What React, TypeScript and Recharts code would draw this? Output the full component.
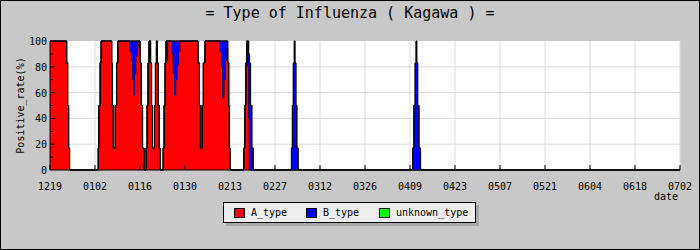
import { Area, AreaChart, CartesianGrid, Legend, XAxis, YAxis } from "recharts";

// days counted from 12/19, values are positive rate (%) per type
const DAYS = [
  0, 5.2, 5.5, 5.8, 6.1,
  15.0, 15.2, 15.6, 15.9, 19.2, 19.4, 19.7,
  20.3, 20.7, 21.1, 24.9, 25.3, 25.7, 26.0, 26.3, 26.7, 27.1, 27.4, 28.0, 28.4, 28.8, 29.3,
  29.9, 30.2, 30.5, 30.8, 31.3, 31.6, 31.9, 32.5, 32.8, 33.1, 33.4, 33.7, 34.0, 34.3,
  35.2, 35.5, 35.8, 36.1, 36.3, 36.6, 37.9, 38.3, 38.7, 39.1, 39.5, 40.0, 40.4, 46.1, 46.5, 46.8,
  47.3, 47.7, 48.2, 52.9, 53.3, 53.7, 54.1, 54.5, 54.9, 55.3, 55.6, 55.8, 56.0,
  60.3, 60.6, 60.9, 61.2, 61.5, 61.8, 62.0, 62.4, 62.8, 63.2,
  75.1, 75.4, 75.7, 76.0, 76.2, 76.5, 76.8, 77.2,
  112.8, 113.2, 113.6, 113.9, 114.1, 114.4, 114.8, 115.3,
  196,
];

const A_TYPE = [
  100, 83, 50, 17, 0,
  17, 50, 83, 100, 83, 50, 17,
  50, 83, 100, 92, 85, 70, 58, 75, 88, 95, 100, 83, 50, 17, 0,
  17, 50, 83, 100, 83, 50, 17, 50, 83, 100, 83, 50, 17, 0,
  17, 50, 83, 100, 85, 100, 90, 75, 58, 70, 82, 92, 100, 83, 50, 17,
  50, 83, 100, 92, 80, 56, 70, 85, 95, 83, 50, 17, 0,
  17, 50, 83, 100, 80, 40, 0, 0, 0, 0,
  0, 0, 0, 0, 0, 0, 0, 0,
  0, 0, 0, 0, 0, 0, 0, 0,
  0,
];

const B_TYPE = [
  0, 0, 0, 0, 0,
  0, 0, 0, 0, 0, 0, 0,
  0, 0, 0, 8, 15, 30, 42, 25, 12, 5, 0, 0, 0, 0, 0,
  0, 0, 0, 0, 0, 0, 0, 0, 0, 0, 0, 0, 0, 0,
  0, 0, 0, 0, 15, 0, 10, 25, 42, 30, 18, 8, 0, 0, 0, 0,
  0, 0, 0, 8, 20, 44, 30, 15, 5, 0, 0, 0, 0,
  0, 0, 0, 0, 20, 50, 83, 50, 17, 0,
  17, 50, 83, 100, 83, 50, 17, 0,
  17, 50, 83, 100, 83, 50, 17, 0,
  0,
];

const UNKNOWN_TYPE = [
  0, 0, 0, 0, 0,
  0, 0, 0, 0, 0, 0, 0,
  0, 0, 0, 0, 0, 0, 0, 0, 0, 0, 0, 0, 0, 0, 0,
  0, 0, 0, 0, 0, 0, 0, 0, 0, 0, 0, 0, 0, 0,
  0, 0, 0, 0, 0, 0, 0, 0, 0, 0, 0, 0, 0, 0, 0, 0,
  0, 0, 0, 0, 0, 0, 0, 0, 0, 0, 0, 0, 0,
  0, 0, 0, 0, 0, 0, 0, 0, 0, 0,
  0, 0, 0, 0, 0, 0, 0, 0,
  0, 0, 0, 0, 0, 0, 0, 0,
  0,
];

const TICK_DAYS = [0, 14, 28, 42, 56, 70, 84, 98, 112, 126, 140, 154, 168, 182, 196];
const TICK_LABELS = [
  "1219", "0102", "0116", "0130", "0213", "0227", "0312", "0326",
  "0409", "0423", "0507", "0521", "0604", "0618", "0702",
];
const Y_TICKS = [0, 10, 20, 30, 40, 50, 60, 70, 80, 90, 100];

const SERIES = [
  { key: "A_type", color: "#ff0000" },
  { key: "B_type", color: "#0000ff" },
  { key: "unknown_type", color: "#00ff00" },
];

const data = DAYS.map((d, i) => ({
  day: d,
  A_type: A_TYPE[i],
  B_type: B_TYPE[i],
  unknown_type: UNKNOWN_TYPE[i],
}));

const FONT = "'DejaVu Sans Mono', monospace";

function XTick({ x, y, payload }: any) {
  const label = TICK_LABELS[TICK_DAYS.indexOf(payload.value)];
  return (
    <g>
      <line x1={x} x2={x} y1={y} y2={y - 5} stroke="#000" />
      <text x={x} y={y + 20} textAnchor="middle" fontFamily={FONT} fontSize={10} fill="#000">
        {label}
      </text>
    </g>
  );
}

function YTick({ x, y, payload }: any) {
  const major = payload.value % 20 === 0;
  return (
    <g>
      {payload.value > 0 && payload.value < 100 && (
        <line x1={x} x2={x + (major ? 5 : 3)} y1={y} y2={y} stroke="#000" />
      )}
      {major && (
        <text x={x - 3} y={y + 4} textAnchor="end" fontFamily={FONT} fontSize={10} fill="#000">
          {payload.value}
        </text>
      )}
    </g>
  );
}

function YLabel({ viewBox }: any) {
  const cx = viewBox.x + 12;
  const cy = viewBox.y + viewBox.height / 2;
  return (
    <text
      x={cx}
      y={cy}
      transform={`rotate(-90 ${cx} ${cy})`}
      textAnchor="middle"
      dominantBaseline="central"
      fontFamily={FONT}
      fontSize={10}
      fill="#000"
    >
      Positive_rate(%)
    </text>
  );
}

function LegendBox() {
  const sq = [10, 82, 155];
  return (
    <div style={{ position: "relative", width: 256, height: 24 }}>
      <div
        style={{ position: "absolute", left: 3, top: 3, width: 253, height: 21, background: "#a8a8a8" }}
      />
      <div
        style={{
          position: "absolute",
          left: 0,
          top: 0,
          width: 253,
          height: 21,
          boxSizing: "border-box",
          border: "1px solid #000",
          background: "#eeeeee",
        }}
      >
        {SERIES.map((s, i) => (
          <div key={s.key}>
            <div
              style={{
                position: "absolute",
                left: sq[i],
                top: 5,
                width: 11,
                height: 10,
                boxSizing: "border-box",
                border: "1px solid #000",
                background: s.color,
              }}
            />
            <div
              style={{
                position: "absolute",
                left: sq[i] + 17,
                top: 0,
                lineHeight: "19px",
                fontFamily: FONT,
                fontSize: 10,
                color: "#000",
                whiteSpace: "nowrap",
              }}
            >
              {s.key}
            </div>
          </div>
        ))}
      </div>
    </div>
  );
}

export default function App() {
  return (
    <div
      style={{
        position: "absolute",
        left: 0,
        top: 0,
        width: 700,
        height: 250,
        background: "#c8c8c8",
        boxShadow: "inset 0 0 0 1px #000",
      }}
    >
      <div
        style={{
          position: "absolute",
          left: 0,
          top: 4,
          width: 700,
          textAlign: "center",
          fontFamily: FONT,
          fontSize: 15,
          lineHeight: "18px",
          color: "#000",
        }}
      >
        = Type of Influenza ( Kagawa ) =
      </div>
      <div style={{ position: "absolute", left: 0, top: 0 }}>
        <AreaChart
          width={700}
          height={250}
          data={data}
          margin={{ top: 41, right: 20, bottom: 48, left: 8 }}
        >
          <CartesianGrid
            fill="#ffffff"
            stroke="#dcdcdc"
            horizontalValues={[20, 40, 60, 80]}
            verticalValues={TICK_DAYS}
          />
          <XAxis
            dataKey="day"
            type="number"
            domain={[0, 196]}
            ticks={TICK_DAYS}
            interval={0}
            tickSize={0}
            tickMargin={0}
            tickLine={false}
            tick={<XTick />}
            axisLine={{ stroke: "#000" }}
            height={32}
            label={{
              value: "date",
              position: "insideBottomRight",
              offset: 2,
              fontFamily: FONT,
              fontSize: 10,
              fill: "#000",
            }}
          />
          <YAxis
            type="number"
            domain={[0, 100]}
            ticks={Y_TICKS}
            interval={0}
            width={42}
            tickSize={0}
            tickMargin={0}
            tickLine={false}
            tick={<YTick />}
            axisLine={{ stroke: "#000" }}
            label={<YLabel />}
          />
          {SERIES.map((s) => (
            <Area
              key={s.key}
              dataKey={s.key}
              name={s.key}
              type="stepAfter"
              stackId="t"
              fill={s.color}
              fillOpacity={1}
              stroke="#000"
              strokeWidth={1}
              isAnimationActive={false}
              dot={false}
              activeDot={false}
            />
          ))}
          <Legend
            layout="horizontal"
            verticalAlign="middle"
            align="center"
            wrapperStyle={{ left: 223, top: 202, width: 260 }}
            content={() => <LegendBox />}
          />
        </AreaChart>
      </div>
    </div>
  );
}
